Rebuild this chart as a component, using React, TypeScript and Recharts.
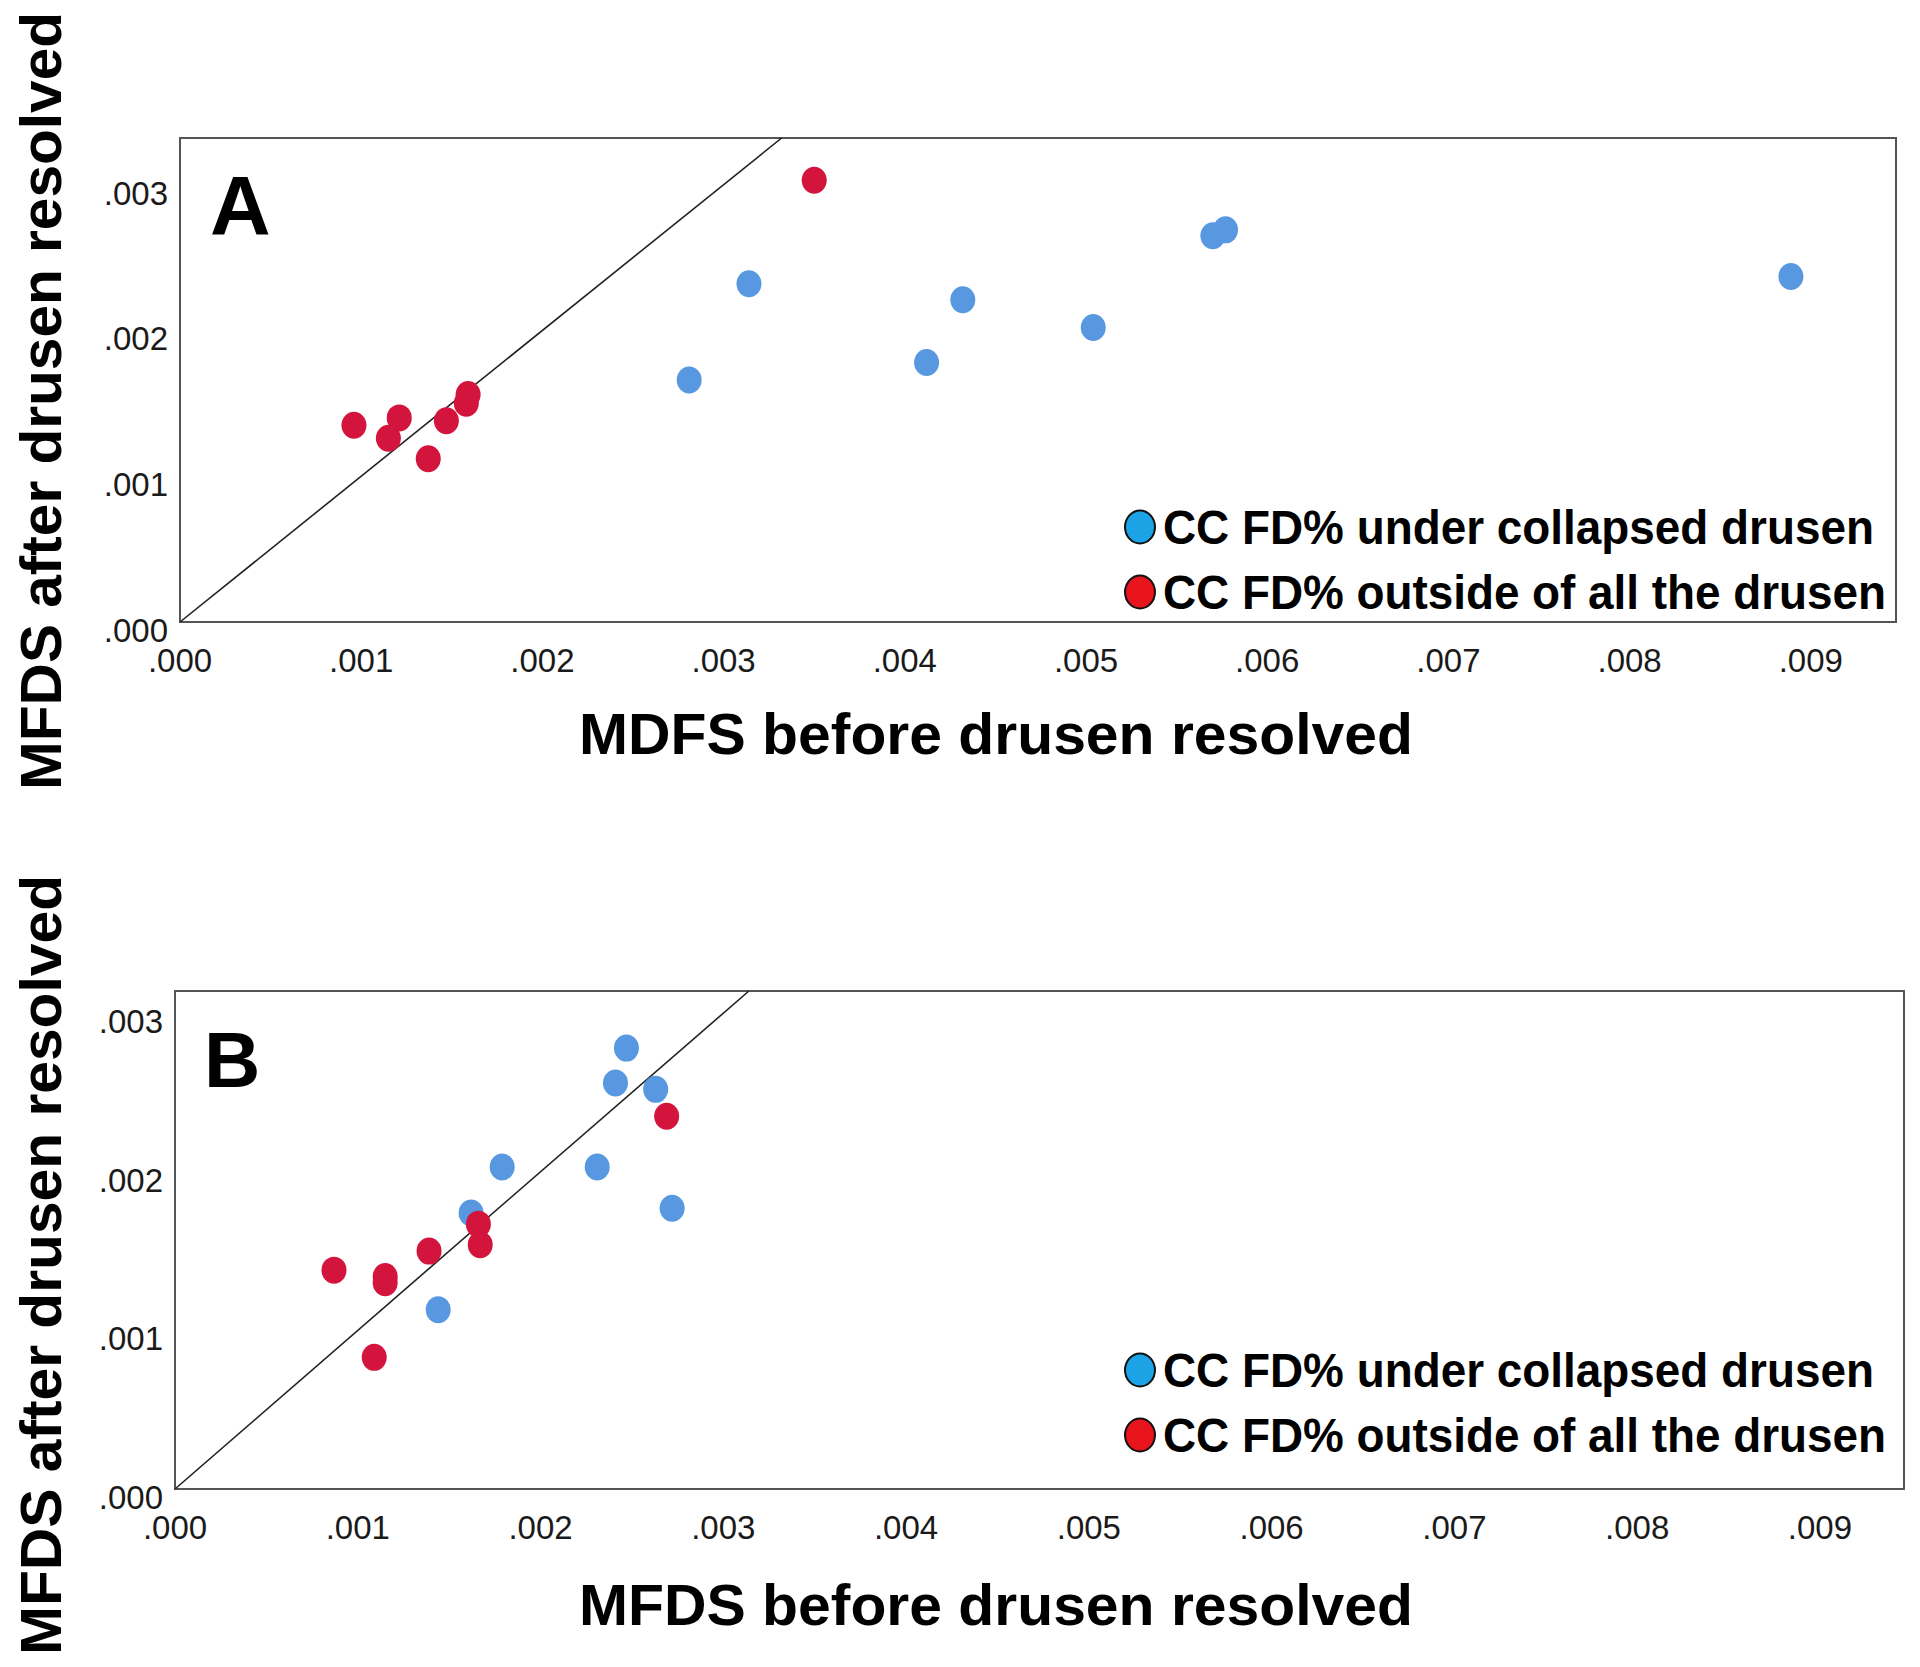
import { ScatterChart, Scatter, XAxis, YAxis, ReferenceArea, ReferenceLine } from "recharts";

const xTicks = [0, 0.001, 0.002, 0.003, 0.004, 0.005, 0.006, 0.007, 0.008, 0.009];
const yTicks = [0, 0.001, 0.002, 0.003];

// panel A: MDFS before vs after
const aUnder = [
  { x: 0.00281, y: 0.00166 },
  { x: 0.00314, y: 0.00232 },
  { x: 0.00412, y: 0.00178 },
  { x: 0.00432, y: 0.00221 },
  { x: 0.00504, y: 0.00202 },
  { x: 0.0057, y: 0.00265 },
  { x: 0.00577, y: 0.00269 },
  { x: 0.00889, y: 0.00237 },
];
const aOutside = [
  { x: 0.0035, y: 0.00303 },
  { x: 0.00096, y: 0.00135 },
  { x: 0.00115, y: 0.00126 },
  { x: 0.00121, y: 0.0014 },
  { x: 0.00137, y: 0.00112 },
  { x: 0.00147, y: 0.00138 },
  { x: 0.00158, y: 0.0015 },
  { x: 0.00159, y: 0.00156 },
];

// panel B
const bUnder = [
  { x: 0.00247, y: 0.00278 },
  { x: 0.00241, y: 0.00256 },
  { x: 0.00263, y: 0.00252 },
  { x: 0.00179, y: 0.00203 },
  { x: 0.00231, y: 0.00203 },
  { x: 0.00272, y: 0.00177 },
  { x: 0.00162, y: 0.00174 },
  { x: 0.00144, y: 0.00113 },
];
const bOutside = [
  { x: 0.00269, y: 0.00235 },
  { x: 0.00166, y: 0.00167 },
  { x: 0.00167, y: 0.00154 },
  { x: 0.00139, y: 0.0015 },
  { x: 0.00087, y: 0.00138 },
  { x: 0.00115, y: 0.00134 },
  { x: 0.00115, y: 0.0013 },
  { x: 0.00109, y: 0.00083 },
];

const FONT = "'Liberation Sans', Arial, sans-serif";
const BLUE = "#5898e0";
const RED = "#d3153d";

const fmt = (v: number) => v.toFixed(3).replace(/^0/, "");

const XTick = ({ x, y, payload }: any) => (
  <text x={x} y={y + 50} textAnchor="middle" fontSize={33} fontFamily={FONT} fill="#1a1a1a">
    {fmt(payload.value)}
  </text>
);

const YTick = ({ x, y, payload }: any) => (
  <text x={x - 12} y={y + 20} textAnchor="end" fontSize={33} fontFamily={FONT} fill="#1a1a1a">
    {fmt(payload.value)}
  </text>
);

const Dot = ({ cx, cy, fill }: any) => <ellipse cx={cx} cy={cy} rx={12.5} ry={13.5} fill={fill} />;

interface PanelProps {
  top: number;
  height: number;
  margin: { top: number; right: number; bottom: number; left: number };
  xMax: number;
  yMax: number;
  under: { x: number; y: number }[];
  outside: { x: number; y: number }[];
}

const Panel = ({ top, height, margin, xMax, yMax, under, outside }: PanelProps) => (
  <div style={{ position: "absolute", left: 0, top }}>
    <ScatterChart width={1920} height={height} margin={margin}>
      <XAxis
        type="number"
        dataKey="x"
        domain={[0, xMax]}
        ticks={xTicks}
        interval={0}
        allowDataOverflow
        tick={XTick}
        tickLine={false}
        tickSize={0}
        tickMargin={0}
        axisLine={false}
        height={60}
      />
      <YAxis
        type="number"
        dataKey="y"
        domain={[0, yMax]}
        ticks={yTicks}
        interval={0}
        allowDataOverflow
        tick={YTick}
        tickLine={false}
        tickSize={0}
        tickMargin={0}
        axisLine={false}
        width={80}
      />
      <ReferenceArea x1={0} x2={xMax} y1={0} y2={yMax} fill="none" fillOpacity={0} stroke="#555" strokeWidth={2} />
      <ReferenceLine
        segment={[
          { x: 0, y: 0 },
          { x: yMax, y: yMax },
        ]}
        stroke="#222"
        strokeWidth={1.6}
      />
      <Scatter data={under} fill={BLUE} shape={Dot} isAnimationActive={false} />
      <Scatter data={outside} fill={RED} shape={Dot} isAnimationActive={false} />
    </ScatterChart>
  </div>
);

const Legend = ({ y }: { y: number }) => (
  <g>
    <ellipse cx={1140} cy={y - 17} rx={15} ry={16.5} fill="#1ba3e6" stroke="#111" strokeWidth={2} />
    <text x={1163} y={y} fontSize={48} fontWeight="bold" fontFamily={FONT} textLength={711} lengthAdjust="spacingAndGlyphs">
      CC FD% under collapsed drusen
    </text>
    <ellipse cx={1140} cy={y + 48} rx={15} ry={16.5} fill="#e8141c" stroke="#111" strokeWidth={2} />
    <text x={1163} y={y + 65} fontSize={48} fontWeight="bold" fontFamily={FONT} textLength={723} lengthAdjust="spacingAndGlyphs">
      CC FD% outside of all the drusen
    </text>
  </g>
);

export default function App() {
  return (
    <div style={{ position: "absolute", left: 0, top: 0, width: 1920, height: 1667, background: "#fff", overflow: "hidden" }}>
      <Panel
        top={0}
        height={800}
        margin={{ top: 138, right: 24, bottom: 118, left: 100 }}
        xMax={0.00947}
        yMax={0.00332}
        under={aUnder}
        outside={aOutside}
      />
      <Panel
        top={850}
        height={817}
        margin={{ top: 141, right: 16, bottom: 118, left: 95 }}
        xMax={0.00946}
        yMax={0.00314}
        under={bUnder}
        outside={bOutside}
      />
      <svg width={1920} height={1667} style={{ position: "absolute", left: 0, top: 0, pointerEvents: "none" }}>
        <text x={210} y={235} fontSize={84} fontWeight="bold" fontFamily={FONT}>A</text>
        <text x={204} y={1087} fontSize={78} fontWeight="bold" fontFamily={FONT}>B</text>
        <text x={996} y={754} textAnchor="middle" fontSize={58} fontWeight="bold" fontFamily={FONT} textLength={834} lengthAdjust="spacingAndGlyphs">
          MDFS before drusen resolved
        </text>
        <text x={996} y={1625} textAnchor="middle" fontSize={58} fontWeight="bold" fontFamily={FONT} textLength={834} lengthAdjust="spacingAndGlyphs">
          MFDS before drusen resolved
        </text>
        <text
          transform="translate(61,401) rotate(-90)"
          textAnchor="middle"
          fontSize={58}
          fontWeight="bold"
          fontFamily={FONT}
          textLength={778}
          lengthAdjust="spacingAndGlyphs"
        >
          MFDS after drusen resolved
        </text>
        <text
          transform="translate(61,1265) rotate(-90)"
          textAnchor="middle"
          fontSize={58}
          fontWeight="bold"
          fontFamily={FONT}
          textLength={780}
          lengthAdjust="spacingAndGlyphs"
        >
          MFDS after drusen resolved
        </text>
        <Legend y={544} />
        <Legend y={1387} />
      </svg>
    </div>
  );
}
